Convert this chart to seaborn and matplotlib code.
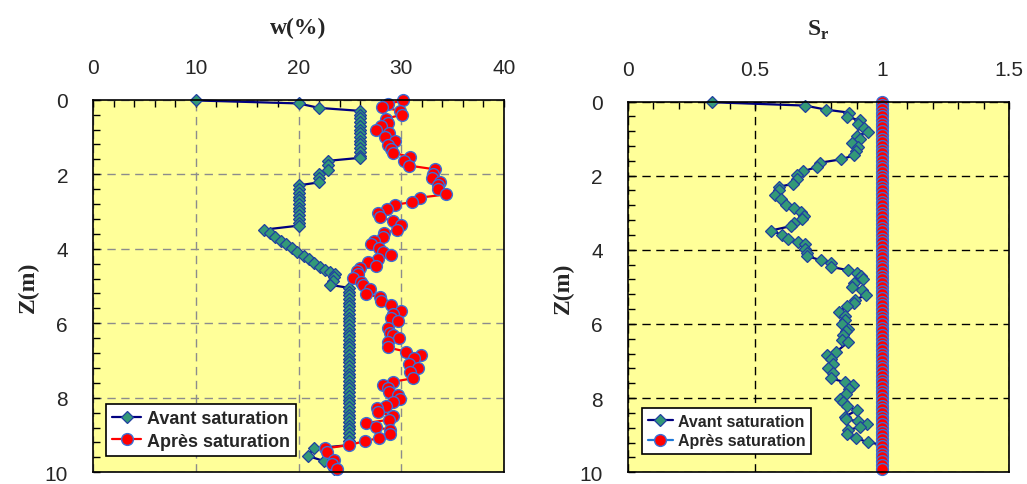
import matplotlib
matplotlib.use("Agg")
import matplotlib.pyplot as plt
from matplotlib.ticker import MultipleLocator
import seaborn as sns

# ---------------- data ----------------
# Left panel: water content w(%) vs depth Z(m)
z_w_avant = [0.02, 0.10, 0.22, 0.30, 0.40, 0.50, 0.60, 0.70, 0.80, 0.90, 1.00, 1.10, 1.20,
             1.30, 1.40, 1.50, 1.56, 1.64, 1.76, 1.88, 2.00, 2.10, 2.22, 2.30, 2.40, 2.50,
             2.60, 2.70, 2.80, 2.90, 3.00, 3.10, 3.20, 3.30, 3.38, 3.49, 3.58, 3.69, 3.79,
             3.88, 3.98, 4.08, 4.19, 4.28, 4.38, 4.48, 4.57, 4.63, 4.68, 4.77, 4.86, 4.97,
             5.05, 5.15, 5.25, 5.35, 5.45, 5.55, 5.65, 5.75, 5.85, 5.95, 6.05, 6.15, 6.25,
             6.35, 6.45, 6.55, 6.65, 6.75, 6.85, 6.95, 7.05, 7.15, 7.25, 7.35, 7.45, 7.55,
             7.65, 7.75, 7.85, 7.95, 8.05, 8.15, 8.25, 8.35, 8.45, 8.55, 8.65, 8.75, 8.85,
             8.95, 9.05, 9.15, 9.27, 9.36, 9.56, 9.70, 9.80, 9.90]
w_avant = [10.0, 20.0, 22.0, 26.0, 26.0, 26.0, 26.0, 26.0, 26.0, 26.0, 26.0, 26.0, 26.0,
           26.0, 26.0, 26.0, 26.0, 22.9, 22.9, 22.9, 21.95, 21.95, 21.95, 20.0, 20.0, 20.0,
           20.0, 20.0, 20.0, 20.0, 20.0, 20.0, 20.0, 20.0, 20.0, 16.6, 17.2, 17.7, 18.3,
           18.8, 19.4, 19.9, 20.5, 21.0, 21.5, 22.05, 22.6, 23.1, 23.6, 23.5, 23.4, 23.1,
           24.9, 24.9, 24.9, 24.9, 24.9, 24.9, 24.9, 24.9, 24.9, 24.9, 24.9, 24.9, 24.9,
           24.9, 24.9, 24.9, 24.9, 24.9, 24.9, 24.9, 24.9, 24.9, 24.9, 24.9, 24.9, 24.9,
           24.9, 24.9, 24.9, 24.9, 24.9, 24.9, 24.9, 24.9, 24.9, 24.9, 24.9, 24.9, 24.9,
           24.9, 24.9, 24.9, 24.9, 21.5, 20.9, 22.5, 23.3, 23.5]

z_w_apres = [0.02, 0.11, 0.20, 0.30, 0.40, 0.51, 0.62, 0.71, 0.82, 0.90, 1.01, 1.11, 1.21,
             1.32, 1.42, 1.54, 1.64, 1.77, 1.87, 1.99, 2.10, 2.20, 2.30, 2.41, 2.54, 2.63,
             2.75, 2.82, 2.93, 3.04, 3.15, 3.26, 3.36, 3.49, 3.58, 3.69, 3.79, 3.87, 3.98,
             4.08, 4.17, 4.27, 4.35, 4.45, 4.52, 4.61, 4.69, 4.78, 4.88, 4.97, 5.08, 5.22,
             5.30, 5.39, 5.51, 5.66, 5.75, 5.87, 5.93, 6.14, 6.25, 6.32, 6.40, 6.50, 6.65,
             6.76, 6.85, 6.94, 7.08, 7.20, 7.32, 7.48, 7.57, 7.66, 7.75, 7.84, 7.93, 8.02,
             8.11, 8.22, 8.28, 8.37, 8.49, 8.59, 8.68, 8.79, 8.86, 8.98, 9.08, 9.16, 9.27,
             9.36, 9.46, 9.67, 9.78, 9.90]
w_apres = [30.2, 28.7, 28.1, 29.9, 30.1, 28.5, 28.7, 28.0, 27.5, 28.8, 28.4, 29.4, 28.7,
           29.0, 29.2, 30.9, 30.3, 30.8, 33.3, 33.1, 33.0, 33.75, 33.6, 33.6, 34.4, 31.8,
           31.0, 29.4, 28.6, 27.7, 27.9, 29.2, 30.0, 29.6, 28.3, 28.2, 27.3, 27.1, 27.85,
           28.2, 29.0, 27.75, 26.8, 27.5, 26.0, 25.65, 25.8, 25.3, 26.1, 26.3, 27.0, 26.6,
           27.9, 28.0, 29.0, 30.0, 29.2, 29.05, 29.7, 28.7, 28.9, 29.15, 29.8, 28.7, 28.7,
           30.45, 31.9, 31.2, 30.8, 31.65, 30.9, 31.1, 29.15, 28.25, 28.7, 28.8, 29.7, 29.9,
           29.2, 28.5, 27.6, 27.7, 29.15, 28.8, 26.55, 27.5, 28.9, 28.95, 27.85, 26.5, 24.9,
           22.6, 22.8, 23.5, 23.3, 23.7]

# Right panel: degree of saturation Sr vs depth Z(m)
z_sr_avant = [0.02, 0.11, 0.22, 0.30, 0.41, 0.51, 0.62, 0.71, 0.83, 0.92, 1.02, 1.11, 1.22,
              1.34, 1.45, 1.56, 1.65, 1.77, 1.88, 1.99, 2.10, 2.22, 2.30, 2.40, 2.53, 2.64,
              2.78, 2.87, 2.97, 3.08, 3.18, 3.27, 3.36, 3.48, 3.60, 3.70, 3.79, 3.85, 3.97,
              4.08, 4.17, 4.28, 4.35, 4.46, 4.55, 4.62, 4.71, 4.80, 4.89, 4.99, 5.09, 5.23,
              5.34, 5.44, 5.52, 5.68, 5.79, 5.90, 6.01, 6.13, 6.20, 6.30, 6.42, 6.49, 6.76,
              6.85, 6.95, 7.09, 7.20, 7.31, 7.47, 7.57, 7.65, 7.76, 7.90, 8.01, 8.10, 8.21,
              8.33, 8.50, 8.57, 8.62, 8.69, 8.78, 8.86, 8.98, 9.07, 9.19, 9.25]
sr_avant = [0.332, 0.697, 0.780, 0.870, 0.861, 0.913, 0.904, 0.930, 0.944, 0.900, 0.913,
            0.881, 0.907, 0.898, 0.891, 0.839, 0.756, 0.743, 0.690, 0.664, 0.664, 0.651,
            0.594, 0.594, 0.579, 0.602, 0.621, 0.655, 0.680, 0.694, 0.684, 0.655, 0.642,
            0.562, 0.608, 0.629, 0.668, 0.697, 0.697, 0.703, 0.705, 0.759, 0.800, 0.800,
            0.867, 0.900, 0.917, 0.926, 0.891, 0.881, 0.922, 0.936, 0.894, 0.891, 0.861,
            0.830, 0.854, 0.854, 0.841, 0.865, 0.860, 0.845, 0.841, 0.867, 0.818, 0.782,
            0.800, 0.808, 0.789, 0.808, 0.800, 0.854, 0.885, 0.870, 0.857, 0.835, 0.848,
            0.861, 0.900, 0.854, 0.857, 0.905, 0.940, 0.913, 0.865, 0.861, 0.896, 0.944,
            0.996]

z_sr_apres = [0.0, 0.1, 0.2, 0.3, 0.4, 0.5, 0.6, 0.7, 0.8, 0.9,
              1.0, 1.1, 1.2, 1.3, 1.4, 1.5, 1.6, 1.7, 1.8, 1.9,
              2.0, 2.1, 2.2, 2.3, 2.4, 2.5, 2.6, 2.7, 2.8, 2.9,
              3.0, 3.1, 3.2, 3.3, 3.4, 3.5, 3.6, 3.7, 3.8, 3.9,
              4.0, 4.1, 4.2, 4.3, 4.4, 4.5, 4.6, 4.7, 4.8, 4.9,
              5.0, 5.1, 5.2, 5.3, 5.4, 5.5, 5.6, 5.7, 5.8, 5.9,
              6.0, 6.1, 6.2, 6.3, 6.4, 6.5, 6.6, 6.7, 6.8, 6.9,
              7.0, 7.1, 7.2, 7.3, 7.4, 7.5, 7.6, 7.7, 7.8, 7.9,
              8.0, 8.1, 8.2, 8.3, 8.4, 8.5, 8.6, 8.7, 8.8, 8.9,
              9.0, 9.1, 9.2, 9.3, 9.4, 9.5, 9.6, 9.7, 9.8, 9.9]
sr_apres = [1.0, 1.0, 1.0, 1.0, 1.0, 1.0, 1.0, 1.0, 1.0, 1.0,
            1.0, 1.0, 1.0, 1.0, 1.0, 1.0, 1.0, 1.0, 1.0, 1.0,
            1.0, 1.0, 1.0, 1.0, 1.0, 1.0, 1.0, 1.0, 1.0, 1.0,
            1.0, 1.0, 1.0, 1.0, 1.0, 1.0, 1.0, 1.0, 1.0, 1.0,
            1.0, 1.0, 1.0, 1.0, 1.0, 1.0, 1.0, 1.0, 1.0, 1.0,
            1.0, 1.0, 1.0, 1.0, 1.0, 1.0, 1.0, 1.0, 1.0, 1.0,
            1.0, 1.0, 1.0, 1.0, 1.0, 1.0, 1.0, 1.0, 1.0, 1.0,
            1.0, 1.0, 1.0, 1.0, 1.0, 1.0, 1.0, 1.0, 1.0, 1.0,
            1.0, 1.0, 1.0, 1.0, 1.0, 1.0, 1.0, 1.0, 1.0, 1.0,
            1.0, 1.0, 1.0, 1.0, 1.0, 1.0, 1.0, 1.0, 1.0, 1.0]

series_labels = ["Avant saturation", "Après saturation"]
w_ticks = [0, 10, 20, 30, 40]
sr_ticks = [0, 0.5, 1, 1.5]
sr_ticklabels = ["0", "0.5", "1", "1.5"]
z_ticks = [0, 2, 4, 6, 8, 10]

# ---------------- style ----------------
sns.set_style("white")
plt.rcParams["font.family"] = ["Liberation Sans", "DejaVu Sans"]
plt.rcParams["mathtext.fontset"] = "custom"
plt.rcParams["mathtext.rm"] = "Liberation Serif"
plt.rcParams["mathtext.bf"] = "Liberation Serif:bold"

BG = "#FFFF99"
AV_LINE = "#000080"
AV_FACE = "#339977"
AV_EDGE = "#1F3FA0"
AP_FACE = "#FF0000"
AP_EDGE = "#3A6FD8"

fig = plt.figure(figsize=(10.27, 4.85), dpi=100)
ax1 = fig.add_axes([93 / 1027, 1 - 473.3 / 485, 411 / 1027, (473.3 - 100.7) / 485])
ax2 = fig.add_axes([628 / 1027, 1 - 473.3 / 485, 381 / 1027, (473.3 - 102.5) / 485])

av_kw = dict(color=AV_LINE, linewidth=1.6, marker="D", markersize=6.3,
             markerfacecolor=AV_FACE, markeredgecolor=AV_EDGE, markeredgewidth=0.9,
             sort=False, estimator=None, clip_on=False)
ap_kw = dict(linewidth=1.6, marker="o", markersize=8.5,
             markerfacecolor=AP_FACE, markeredgecolor=AP_EDGE, markeredgewidth=1.0,
             sort=False, estimator=None, clip_on=False)

sns.lineplot(x=w_avant, y=z_w_avant, ax=ax1, label=series_labels[0], **av_kw)
sns.lineplot(x=w_apres, y=z_w_apres, ax=ax1, label=series_labels[1], color="#FF0000", **ap_kw)

sns.lineplot(x=sr_avant, y=z_sr_avant, ax=ax2, label=series_labels[0], **av_kw)
sns.lineplot(x=sr_apres, y=z_sr_apres, ax=ax2, label=series_labels[1], color="#1E78D8", **ap_kw)

def style_axis(ax, xlim, xticks, xticklabels, xminor, xlabel, grid_color, legend_fs, legend_anchor):
    ax.set_facecolor(BG)
    ax.set_xlim(*xlim)
    ax.set_ylim(10, 0)
    ax.set_xticks(xticks)
    ax.set_xticklabels(xticklabels)
    ax.xaxis.set_minor_locator(MultipleLocator(xminor))
    ax.set_yticks(z_ticks)
    ax.yaxis.set_minor_locator(MultipleLocator(0.4))
    ax.xaxis.tick_top()
    ax.xaxis.set_label_position("top")
    ax.tick_params(which="both", direction="in", top=True, bottom=False, left=True,
                   right=False, length=5, width=1, color="black")
    ax.tick_params(which="major", labelsize=15, pad=16)
    ax.tick_params(axis="y", which="major", pad=18)
    ax.grid(which="major", axis="both", linestyle=(0, (6, 4)), color=grid_color, linewidth=1)
    ax.set_axisbelow(True)
    for s in ax.spines.values():
        s.set_color("black")
        s.set_linewidth(1.2)
    ax.set_xlabel(xlabel, fontsize=17, fontweight="bold", family="Liberation Serif", labelpad=18)
    ax.set_ylabel("Z(m)", fontsize=17, fontweight="bold", family="Liberation Serif", labelpad=4)
    handles, labels = ax.get_legend_handles_labels()
    leg = ax.legend(handles, labels, loc="lower left", bbox_to_anchor=legend_anchor,
                    frameon=True, fancybox=False, edgecolor="black", facecolor="white",
                    framealpha=1, prop={"family": "Liberation Sans", "weight": "bold",
                                        "size": legend_fs},
                    handlelength=1.6, handletextpad=0.3, borderpad=0.35, labelspacing=0.3,
                    borderaxespad=0)
    leg.get_frame().set_linewidth(1.2)

style_axis(ax1, (0, 40), w_ticks, [str(t) for t in w_ticks], 2, "w(%)", "#8C8C8C",
           13, (13 / 411, (473.3 - 457) / 372.6))
style_axis(ax2, (0, 1.5), sr_ticks, sr_ticklabels, 0.1, r"$\mathbf{S}_{\mathbf{r}}$", "black",
           11.5, (14 / 381, (473.3 - 455) / 370.8))

fig.savefig("out.png", dpi=100, facecolor="white")
